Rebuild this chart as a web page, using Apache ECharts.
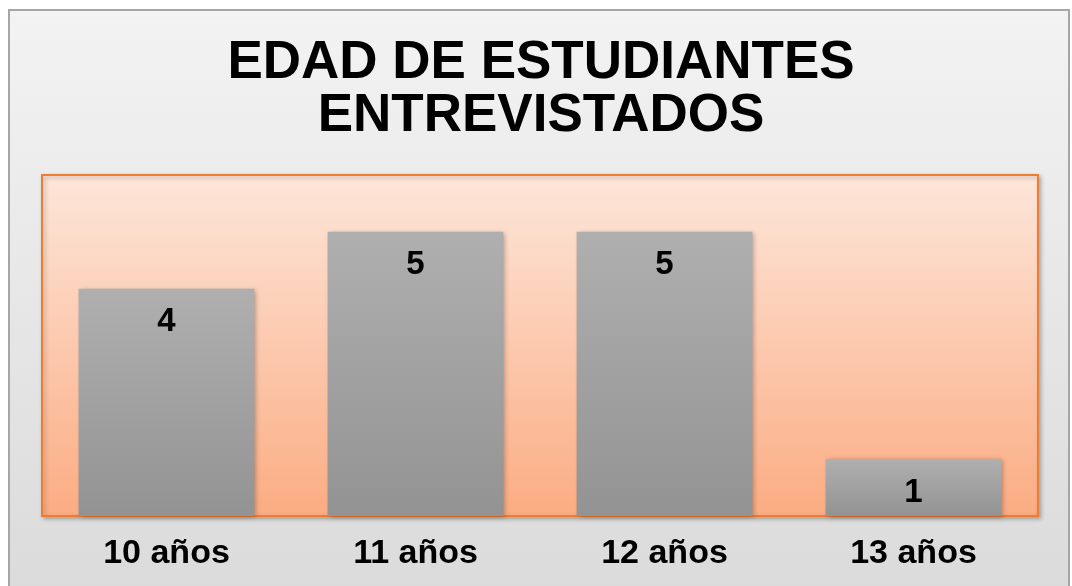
<!DOCTYPE html>
<html>
  <head>
	<meta charset="UTF-8">
	<title>Edad de estudiantes</title>
	<script src="https://cdn.jsdelivr.net/npm/echarts@6/dist/echarts.min.js"></script>
	<style>
	  html, body { margin: 0; padding: 0; background: #fff; }
	  #chart { width: 1072px; height: 586px; }
	</style>
  </head>
  <body>
	<div id="chart"></div>
	<script type="text/javascript">
	 // datos
	 var categorias = ['10 años', '11 años', '12 años', '13 años'];
	 var estudiantes = [4, 5, 5, 1];
	 var titulo = 'EDAD DE ESTUDIANTES\nENTREVISTADOS';

	 var chart = echarts.init(document.getElementById('chart'));
	 var fuente = '"Liberation Sans", Arial, sans-serif';

	 chart.setOption({
	   animation: false,
	   title: {
		 text: titulo,
		 left: 536,
		 top: 32,
		 textAlign: 'center',
		 textStyle: {
		   fontFamily: fuente,
		   fontSize: 53,
		   fontWeight: 'bold',
		   lineHeight: 53,
		   color: '#000'
		 }
	   },
	   // marco exterior gris
	   graphic: [{
		 type: 'rect',
		 z: -10,
		 silent: true,
		 shape: { x: 9, y: 10, width: 1060, height: 600 },
		 style: {
		   fill: new echarts.graphic.LinearGradient(0, 0, 0, 1, [
			 { offset: 0, color: '#f3f3f3' },
			 { offset: 1, color: '#dadada' }
		   ]),
		   stroke: '#a6a6a6',
		   lineWidth: 2
		 }
	   }],
	   grid: {
		 show: true,
		 left: 42,
		 top: 175,
		 width: 996,
		 height: 341,
		 borderColor: '#ed7d31',
		 borderWidth: 2,
		 shadowColor: 'rgba(0,0,0,0.25)',
		 shadowBlur: 4,
		 shadowOffsetX: 2,
		 shadowOffsetY: 2,
		 backgroundColor: new echarts.graphic.LinearGradient(0, 0, 0, 1, [
		   { offset: 0, color: '#fde6da' },
		   { offset: 1, color: '#fbac82' }
		 ])
	   },
	   xAxis: {
		 type: 'category',
		 data: categorias,
		 axisLine: { show: false },
		 axisTick: { show: false },
		 axisLabel: {
		   margin: 21,
		   fontFamily: fuente,
		   fontSize: 34,
		   fontWeight: 'bold',
		   color: '#000'
		 }
	   },
	   yAxis: {
		 type: 'value',
		 min: 0,
		 max: 6,
		 show: false,
		 splitLine: { show: false }
	   },
	   series: [{
		 type: 'bar',
		 data: estudiantes,
		 barWidth: '70.6%',
		 itemStyle: {
		   color: new echarts.graphic.LinearGradient(0, 0, 0, 1, [
			 { offset: 0, color: '#afafaf' },
			 { offset: 1, color: '#939393' }
		   ]),
		   shadowColor: 'rgba(0,0,0,0.3)',
		   shadowBlur: 5,
		   shadowOffsetX: 2,
		   shadowOffsetY: 1
		 },
		 label: {
		   show: true,
		   position: 'insideTop',
		   distance: 17,
		   fontFamily: fuente,
		   fontSize: 33,
		   fontWeight: 'bold',
		   color: '#000'
		 }
	   }]
	 });
	</script>
  </body>
</html>
